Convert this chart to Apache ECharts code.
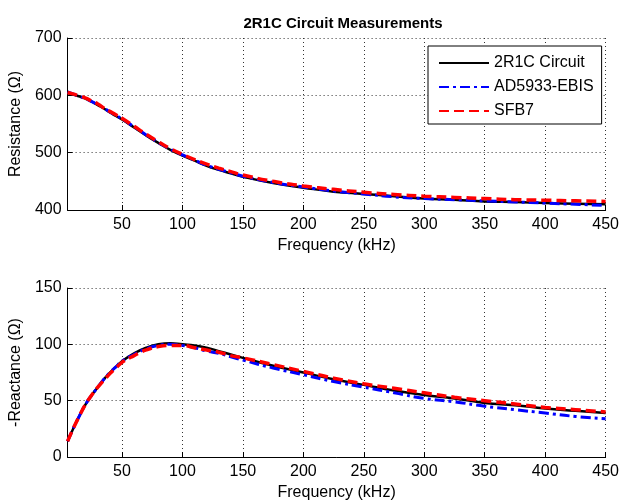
<!DOCTYPE html>
<html>
<head>
<meta charset="utf-8">
<script src="https://cdn.jsdelivr.net/npm/echarts@6/dist/echarts.min.js"></script>
<style>
html,body{margin:0;padding:0;background:#fff;}
#chart{width:622px;height:502px;}
</style>
</head>
<body>
<div id="chart"></div>
<script>
// Frequency (kHz)
var freq = [5,10,15,20,25,30,35,40,45,50,60,70,80,90,100,110,120,130,140,150,175,200,225,250,275,300,325,350,375,400,425,450];

// Resistance (Ohm)
var resCircuit = [604,601,598,594,589,583,577,570,564,558,544,530,517,505,495,486,477,470,464,458,447,439,432,428,424,420,418,415,414,412,411,410];
var resAD5933  = [606,602,598,594,589,584,578,571,565,559,545,531,518,506,496,487,478,471,465,459,448,440,433,428,423,420,418,416,414,412,410,408];
var resSFB7    = [605,602,599,595,590,585,578,572,566,560,546,532,519,507,497,488,480,473,467,461,450,442,436,431,427,424,422,420,418,417,416,415];

// -Reactance (Ohm)
var reaCircuit = [14,26,37,47,55,62,69,75,80,85,92,97,100,101,100,99,97,94,91,88,81,75,69,64,59,55,52,48,46,43,41,39];
var reaAD5933  = [14,26,37,47,55,62,69,75,80,85,91,96,99,100,99,97,94,92,89,86,79,73,67,62,57,52,49,45,42,39,36,34];
var reaSFB7    = [14,26,37,47,55,62,68,74,79,84,90,95,98,99,99,97,95,93,90,88,82,76,70,65,61,57,53,50,47,44,42,40];

var seriesNames = ['2R1C Circuit', 'AD5933-EBIS', 'SFB7'];
var xTicks = [50,100,150,200,250,300,350,400,450];

function pairs(xs, ys){ return xs.map(function(x,i){ return [x, ys[i]]; }); }

var FONT = 'Liberation Sans, Arial, Helvetica, sans-serif';
var styles = [
  {color:'#000000', width:2.5, type:'solid'},
  {color:'#0000ff', width:3, type:[10,4,3,4]},
  {color:'#ff0000', width:3.5, type:[10,5]}
];

function xAxisCfg(gi){
  return {
    type:'value', gridIndex:gi, min:5, max:450, splitNumber:9,
    name:'Frequency (kHz)', nameLocation:'middle', nameGap:28,
    nameTextStyle:{fontFamily:FONT, fontSize:16, color:'#000'},
    axisLine:{lineStyle:{color:'#000', width:1}},
    axisTick:{inside:true, length:5, lineStyle:{color:'#000'}},
    axisLabel:{fontFamily:FONT, fontSize:16, color:'#000', margin:7, showMinLabel:true,
      formatter:function(v){ return xTicks.indexOf(v) >= 0 ? String(v) : ''; }},
    splitLine:{show:true, lineStyle:{color:'#333', width:1, type:[1,3]}}
  };
}
function yAxisCfg(gi, name, min, max, interval){
  return {
    type:'value', gridIndex:gi, min:min, max:max, interval:interval,
    name:name, nameLocation:'middle', nameGap:38,
    nameTextStyle:{fontFamily:FONT, fontSize:16, color:'#000'},
    axisLine:{show:true, lineStyle:{color:'#000', width:1}},
    axisTick:{show:true, inside:true, length:5, lineStyle:{color:'#000'}},
    axisLabel:{fontFamily:FONT, fontSize:16, color:'#000', margin:6},
    splitLine:{show:true, lineStyle:{color:'#333', width:1, type:[1,3]}}
  };
}

var series = [];
var resData = [resCircuit, resAD5933, resSFB7];
var reaData = [reaCircuit, reaAD5933, reaSFB7];
for (var g = 0; g < 2; g++) {
  for (var s = 0; s < 3; s++) {
    series.push({
      name: seriesNames[s], type:'line', xAxisIndex:g, yAxisIndex:g,
      data: pairs(freq, g === 0 ? resData[s] : reaData[s]),
      smooth: true, symbol:'none', showSymbol:false, animation:false,
      lineStyle:{color:styles[s].color, width:styles[s].width, type:styles[s].type},
      itemStyle:{color:styles[s].color},
      z: 2 + s
    });
  }
}

var chart = echarts.init(document.getElementById('chart'), null, {renderer:'canvas'});
chart.setOption({
  backgroundColor:'#ffffff',
  animation:false,
  title:{text:'2R1C Circuit Measurements', left:338, top:11, textAlign:'center',
    textStyle:{fontFamily:FONT, fontSize:15, fontWeight:'bold', color:'#000'}},
  legend:{
    data: seriesNames, orient:'vertical', left:428, top:46,
    padding:[9,8,5,10], itemGap:8, itemWidth:50, itemHeight:16,
    backgroundColor:'#fff', borderColor:'#000', borderWidth:1, borderRadius:0,
    itemStyle:{opacity:0, borderWidth:0},
    textStyle:{fontFamily:FONT, fontSize:16, color:'#000'},
    selectedMode:false
  },
  grid:[
    {left:66, top:38, width:544, height:172, containLabel:false},
    {left:66, top:288, width:544, height:172, containLabel:false}
  ],
  xAxis:[xAxisCfg(0), xAxisCfg(1)],
  yAxis:[yAxisCfg(0,'Resistance (\u03A9)',400,700,100), yAxisCfg(1,'-Reactance (\u03A9)',0,150,50)],
  series: series
});
</script>
</body>
</html>
